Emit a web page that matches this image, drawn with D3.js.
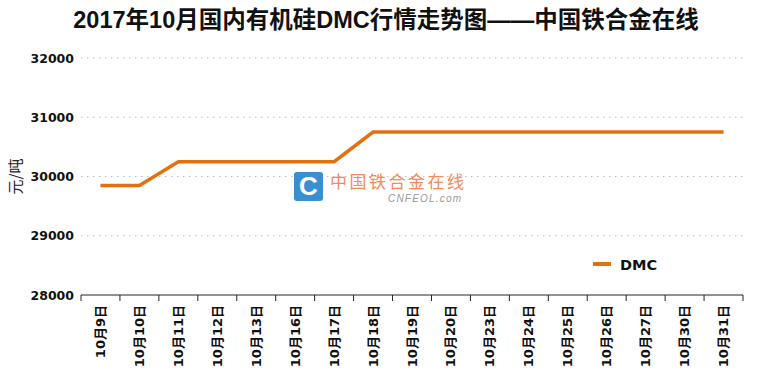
<!DOCTYPE html>
<html>
<head>
<meta charset="utf-8" />
<script src="https://cdn.jsdelivr.net/npm/d3@7"></script>
<style>
  body { margin: 0; background: #fff; }
  svg text { font-family: "DejaVu Sans", Verdana, "Noto Sans CJK SC", sans-serif; }
  .title { font-family: "Liberation Sans", Arial, "Noto Sans CJK SC", sans-serif !important; font-weight: bold; font-size: 23.5px; }
  .grid line { stroke: #bbb; stroke-dasharray: 1.5 4.5; }
  .tick text { font-weight: bold; font-size: 12.5px; fill: #111; }
</style>
</head>
<body>
<div id="chart"></div>
<script>
var width = 760, height = 375;
var margin = {top: 58, right: 17, bottom: 80, left: 81};

var dates = ["10月9日","10月10日","10月11日","10月12日","10月13日","10月16日","10月17日","10月18日","10月19日","10月20日","10月23日","10月24日","10月25日","10月26日","10月27日","10月30日","10月31日"];
var dmc = [29850, 29850, 30250, 30250, 30250, 30250, 30250, 30750, 30750, 30750, 30750, 30750, 30750, 30750, 30750, 30750, 30750];
var yTicks = [28000, 29000, 30000, 31000, 32000];

var svg = d3.select("#chart").append("svg")
  .attr("width", width)
  .attr("height", height);

var x = d3.scaleBand().domain(dates).range([margin.left, width - margin.right]);
var y = d3.scaleLinear().domain([28000, 32000]).range([height - margin.bottom, margin.top]);

// dotted grid
svg.append("g").attr("class", "grid")
  .selectAll("line")
  .data(yTicks.slice(1))
  .enter().append("line")
    .attr("x1", margin.left).attr("x2", width - margin.right)
    .attr("y1", function(d) { return y(d); }).attr("y2", function(d) { return y(d); });

// y axis, no line
var yAxis = svg.append("g")
  .attr("transform", "translate(" + margin.left + ",0)")
  .call(d3.axisLeft(y).tickValues(yTicks).tickSize(0).tickPadding(7).tickFormat(d3.format("d")));
yAxis.select(".domain").remove();

// x axis with ticks at band edges
var xAxisG = svg.append("g").attr("transform", "translate(0," + y(28000) + ")");
xAxisG.append("line")
  .attr("x1", margin.left).attr("x2", width - margin.right)
  .attr("stroke", "#222");
var edges = d3.range(dates.length + 1).map(function(i) { return margin.left + i * x.bandwidth(); });
xAxisG.selectAll(".edge").data(edges).enter().append("line")
  .attr("class", "edge")
  .attr("x1", function(d) { return d; }).attr("x2", function(d) { return d; })
  .attr("y1", 0).attr("y2", 6)
  .attr("stroke", "#222");
xAxisG.selectAll(".lab").data(dates).enter().append("text")
  .attr("class", "lab")
  .attr("transform", function(d) { return "translate(" + (x(d) + x.bandwidth() / 2 + 4.5) + ",10) rotate(-90)"; })
  .attr("text-anchor", "end")
  .style("font-weight", "bold")
  .style("font-size", "13px")
  .attr("fill", "#111")
  .text(function(d) { return d; });

// watermark
var wm = svg.append("g").attr("transform", "translate(294,172)");
wm.append("rect").attr("width", 29).attr("height", 29).attr("rx", 3).attr("fill", "#3a8fd1");
wm.append("text").attr("x", 14.5).attr("y", 23).attr("text-anchor", "middle")
  .style("font-family", "'Liberation Sans', Arial, sans-serif").style("font-weight", "bold")
  .style("font-size", "26px").attr("fill", "#fff").text("C");
wm.append("text").attr("x", 36).attr("y", 16)
  .style("font-family", "'Noto Sans CJK SC', sans-serif").style("font-size", "17px")
  .style("letter-spacing", "2.5px")
  .attr("fill", "#f4895c").text("中国铁合金在线");
wm.append("text").attr("x", 94).attr("y", 30)
  .style("font-family", "'Liberation Sans', Arial, sans-serif").style("font-style", "italic")
  .style("font-size", "10px").style("letter-spacing", "1.2px")
  .attr("fill", "#999").text("CNFEOL.com");

// line
var line = d3.line()
  .x(function(d, i) { return x(dates[i]) + x.bandwidth() / 2; })
  .y(function(d) { return y(d); });
svg.append("path")
  .datum(dmc)
  .attr("d", line)
  .attr("fill", "none")
  .attr("stroke", "#e3700f")
  .attr("stroke-width", 3.5);

// legend
svg.append("line").attr("x1", 593).attr("x2", 611).attr("y1", 264).attr("y2", 264)
  .attr("stroke", "#e3700f").attr("stroke-width", 4);
svg.append("text").attr("x", 620).attr("y", 269.5)
  .style("font-weight", "bold").style("font-size", "14.5px").attr("fill", "#111").text("DMC");

// y title
svg.append("text")
  .attr("transform", "translate(21," + y(30000) + ") rotate(-90)")
  .attr("text-anchor", "middle")
  .style("font-family", "'Noto Sans CJK SC', sans-serif")
  .style("font-size", "15px").attr("fill", "#222")
  .text("元/吨");

// title
svg.append("text").attr("class", "title")
  .attr("x", 386).attr("y", 28)
  .attr("text-anchor", "middle").attr("fill", "#111")
  .text("2017年10月国内有机硅DMC行情走势图——中国铁合金在线");
</script>
</body>
</html>
